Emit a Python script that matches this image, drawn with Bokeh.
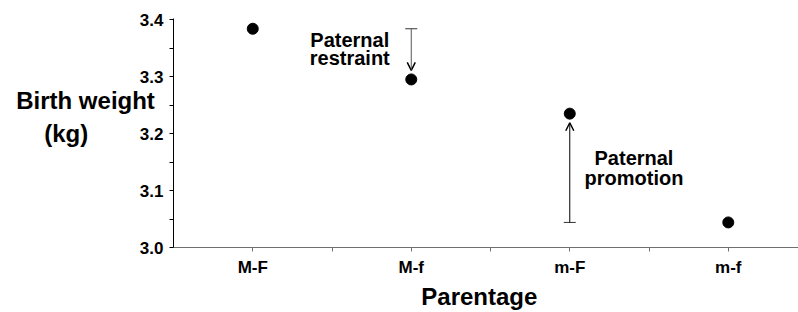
from bokeh.plotting import figure
from bokeh.models import Range1d, FixedTicker, Arrow, TeeHead, OpenHead, Label
from bokeh.embed import file_html
from bokeh.resources import INLINE

# ---- data ----
categories = ["M-F", "M-f", "m-F", "m-f"]
birth_weight = [3.384, 3.295, 3.235, 3.044]
y_ticks = [3.0, 3.1, 3.2, 3.3, 3.4]
y_tick_labels = ["3.0", "3.1", "3.2", "3.3", "3.4"]

FONT = "Liberation Sans"
NB = "\u00a0"
xs = list(range(len(categories)))

p = figure(width=798, height=312, output_backend="svg", toolbar_location=None,
           x_range=Range1d(-0.5, 3.443), y_range=Range1d(3.0, 3.402),
           min_border_left=173, min_border_right=0, min_border_top=18,
           min_border_bottom=65)
p.outline_line_color = None
p.grid.visible = False
p.background_fill_color = "white"

# x axis
xa = p.xaxis[0]
xa.ticker = FixedTicker(ticks=xs, minor_ticks=[i + 0.5 for i in xs[:-1]])
xa.major_label_overrides = {i: c for i, c in zip(xs, categories)}
xa.axis_line_color = "#707070"
xa.major_tick_line_color = "#707070"
xa.minor_tick_line_color = "#707070"
xa.major_tick_out = 4
xa.major_tick_in = 0
xa.minor_tick_out = 4
xa.minor_tick_in = 0
xa.major_label_standoff = 6
xa.major_label_text_font = FONT
xa.major_label_text_font_style = "bold"
xa.major_label_text_font_size = "17px"
xa.major_label_text_color = "black"
xa.axis_label = "Parentage" + NB * 2
xa.axis_label_text_font = FONT
xa.axis_label_text_font_style = "bold"
xa.axis_label_text_font_size = "24px"
xa.axis_label_text_color = "black"
xa.axis_label_standoff = 3

# y axis
ya = p.yaxis[0]
ya.ticker = FixedTicker(ticks=y_ticks,
                        minor_ticks=[(a + b) / 2 for a, b in zip(y_ticks[:-1], y_ticks[1:])])
ya.major_label_overrides = {t: l for t, l in zip(y_ticks, y_tick_labels)}
ya.axis_line_color = "black"
ya.major_tick_out = 4
ya.major_tick_in = 0
ya.minor_tick_out = 4
ya.minor_tick_in = 0
ya.major_label_standoff = 6
ya.major_label_text_font = FONT
ya.major_label_text_font_style = "bold"
ya.major_label_text_font_size = "17px"
ya.major_label_text_color = "black"
ya.axis_label = "Birth weight\n(kg)" + NB * 10 + "\n" + NB
ya.axis_label_orientation = "horizontal"
ya.axis_label_text_font = FONT
ya.axis_label_text_font_style = "bold"
ya.axis_label_text_font_size = "24px"
ya.axis_label_text_color = "black"
ya.axis_label_standoff = -18

# points
p.scatter(xs, birth_weight, size=11, color="black")

# arrows
gap = 0.016
p.add_layout(Arrow(x_start=xs[1], y_start=birth_weight[0], x_end=xs[1], y_end=birth_weight[1] + gap,
                   line_color="#555555", line_width=1,
                   start=TeeHead(size=12, line_width=1, line_color="#333333"),
                   end=OpenHead(size=8, line_width=1.5, line_color="black")))
p.add_layout(Arrow(x_start=xs[2], y_start=birth_weight[3], x_end=xs[2], y_end=birth_weight[2] - gap,
                   line_color="black", line_width=1,
                   start=TeeHead(size=12, line_width=1, line_color="#333333"),
                   end=OpenHead(size=8, line_width=1.5, line_color="black")))

def lab(x, y, t, size="20px"):
    p.add_layout(Label(x=x, y=y, text=t,
                       text_align="center", text_baseline="alphabetic",
                       text_font=FONT, text_font_style="bold", text_font_size=size,
                       text_color="black"))

lab(0.612, 3.364, "Paternal")
lab(0.612, 3.332, "restraint")
lab(2.405, 3.157, "Paternal")
lab(2.405, 3.122, "promotion")

open("out.html", "w").write(file_html(p, INLINE))
